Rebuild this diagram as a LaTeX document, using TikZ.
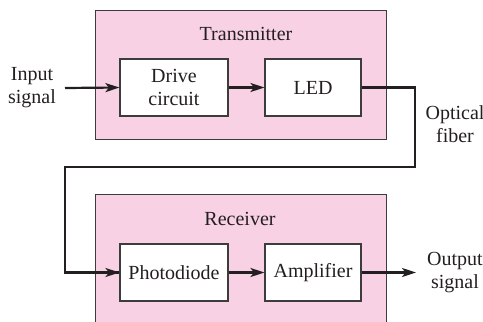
\documentclass[tikz,border=0pt]{standalone}
\usepackage{fontspec}
\setmainfont{Liberation Serif}
\usetikzlibrary{arrows.meta}
\definecolor{pinkfill}{RGB}{248,210,228}
\definecolor{edge}{RGB}{60,60,60}
\definecolor{ink}{RGB}{35,31,32}
\begin{document}
\begin{tikzpicture}[x=1pt,y=-1pt,
  font=\fontsize{20}{23}\selectfont,
  group/.style={draw=edge,fill=pinkfill,line width=1.1pt},
  blockbox/.style={draw=edge,fill=white,line width=1.1pt,inner sep=0pt,align=center,text=ink},
  lbl/.style={align=center,text=ink,inner sep=0pt},
  sig/.style={draw=ink,line width=2.2pt,-{Stealth[length=14pt,width=9pt,inset=3.5pt]}},
  fib/.style={draw=ink,line width=2.2pt}]
\useasboundingbox (0,0) rectangle (483,322);
% group boxes
\begin{scope}
\clip (0,0) rectangle (483,322);
\node[group,minimum width=291pt,minimum height=129pt,anchor=north west,inner sep=0pt] (tx) at (95,10) {};
\node[group,minimum width=291pt,minimum height=140pt,anchor=north west,inner sep=0pt] (rx) at (95,194) {};
\end{scope}
\node[lbl] (txl) at (246,34) {Transmitter};
\node[lbl] (rxl) at (240,219) {Receiver};
% blocks
\node[blockbox,minimum width=108pt,minimum height=57pt] (drv) at (174,87.5) {Drive\\circuit};
\node[blockbox,minimum width=96pt,minimum height=57pt] (led) at (313,87.5) {LED};
\node[blockbox,minimum width=108pt,minimum height=57pt] (pd) at (174,272.5) {Photodiode};
\node[blockbox,minimum width=96pt,minimum height=57pt] (amp) at (313,272.5) {Amplifier};
% labels
\node[lbl] (in) at (32,88) {Input\\signal};
\node[lbl] (of) at (455,124) {Optical\\fiber};
\node[lbl] (out) at (455,273) {Output\\signal};
\coordinate (inS) at (65,88);
\coordinate (outE) at (416,272.5);
\coordinate (f1) at (415,87.5);
\coordinate (f2) at (415,167);
\coordinate (f3) at (65,167);
\coordinate (f4) at (65,272.5);
% connectors
\draw[sig] (inS) -- (drv.west);
\draw[sig] (drv.east) -- (led.west);
\draw[fib,line join=miter] (led.east) -- (f1) -- (f2) -- (f3) -- (f4) -- (pd.west);
\draw[sig] (f4) -- (pd.west);
\draw[sig] (pd.east) -- (amp.west);
\draw[sig] (amp.east) -- (outE);
\end{tikzpicture}
\end{document}
